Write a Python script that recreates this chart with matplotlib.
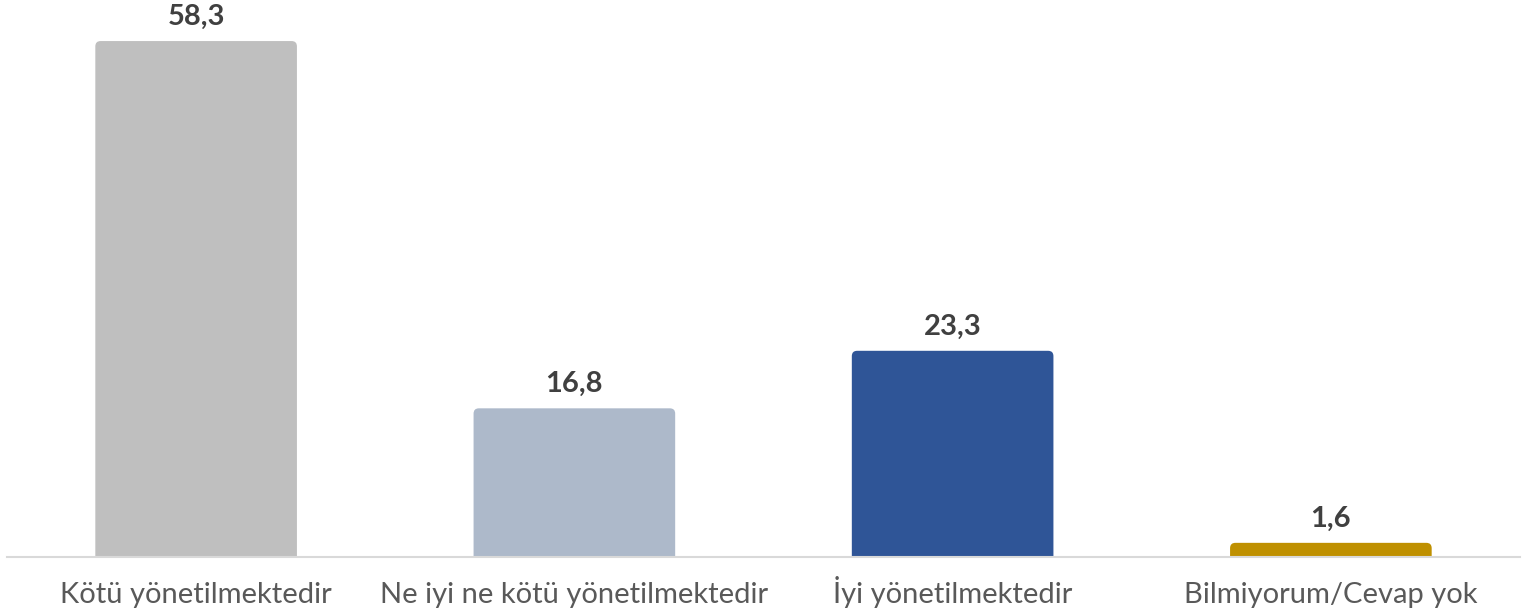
import matplotlib.pyplot as plt
from matplotlib.patches import FancyBboxPatch

# veriler
kategoriler = ["Kötü yönetilmektedir", "Ne iyi ne kötü yönetilmektedir",
               "İyi yönetilmektedir", "Bilmiyorum/Cevap yok"]
degerler = [58.3, 16.8, 23.3, 1.6]
etiketler = ["58,3", "16,8", "23,3", "1,6"]
renkler = ["#BFBFBF", "#ADB9CA", "#2F5597", "#BF9000"]

plt.rcParams['font.family'] = ['Lato', 'DejaVu Sans']

fig = plt.figure(figsize=(15.32, 6.13), dpi=100)
ax = fig.add_axes([7 / 1532, 56 / 613, 1513 / 1532, 557 / 613])

x = list(range(len(kategoriler)))
bars = ax.bar(x, degerler, width=0.533, color=renkler)

ax.set_xlim(-0.5, 3.5)
ax.set_ylim(0, 62.94)

# köşeleri yuvarlatılmış çubuklar
asp = (62.94 / 557) / (4 / 1513)
for b, c in zip(bars, renkler):
    b.set_visible(False)
    p = FancyBboxPatch((b.get_x(), -2), b.get_width(), b.get_height() + 2,
                       boxstyle="round,pad=0,rounding_size=0.014",
                       mutation_aspect=asp, facecolor=c, edgecolor="none")
    ax.add_patch(p)

for xi, v, t in zip(x, degerler, etiketler):
    ax.annotate(t, (xi, v), xytext=(0, 8), textcoords="offset points",
                ha="center", va="bottom", fontsize=21, fontweight="bold",
                color="#404040")

ax.set_xticks(x)
ax.set_xticklabels(kategoriler, fontsize=21, color="#595959")
for lbl in ax.get_xticklabels():
    lbl.set_va("baseline")
ax.tick_params(axis="x", length=0, pad=33)
ax.set_yticks([])
for s in ["top", "right", "left"]:
    ax.spines[s].set_visible(False)
ax.spines["bottom"].set_color("#D9D9D9")
ax.spines["bottom"].set_linewidth(1.5)

fig.savefig("out.png", dpi=100)
